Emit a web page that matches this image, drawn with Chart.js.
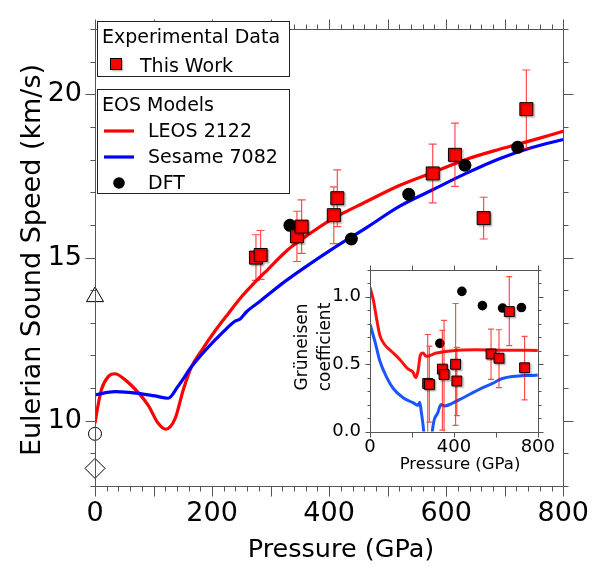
<!DOCTYPE html>
<html>
<head>
<meta charset="utf-8">
<script src="https://cdn.jsdelivr.net/npm/chart.js@4.4.0/dist/chart.umd.min.js"></script>
<style>
body { margin: 0; background: #fff; }
#wrap { position: relative; width: 601px; height: 573px; }
#mainChart { position: absolute; left: 0; top: 0; }
#insetChart { position: absolute; left: 280px; top: 250px; }
</style>
</head>
<body>
<div id="wrap">
  <canvas id="mainChart" width="601" height="573"></canvas>
  <canvas id="insetChart" width="280" height="230"></canvas>
</div>
<script>
// ---- sound speed (km/s) vs pressure (GPa) ----
var leosP = [0, 6, 11, 23, 34, 51, 74, 91, 108, 121, 137, 151, 165, 182, 205, 228, 250, 273, 296, 330, 350, 407, 464, 520, 577, 634, 691, 748, 800];
var leosV = [9.92, 10.55, 10.96, 11.36, 11.44, 11.26, 10.86, 10.47, 9.92, 9.74, 10.07, 10.96, 11.66, 12.15, 12.75, 13.29, 13.79, 14.24, 14.65, 15.25, 15.52, 16.2, 16.72, 17.21, 17.61, 18.01, 18.32, 18.6, 18.87];

var sesameP = [0, 34, 74, 102, 125, 142, 165, 188, 216, 239, 248, 259, 284, 318, 353, 407, 464, 520, 577, 634, 691, 748, 800];
var sesameV = [10.79, 10.89, 10.84, 10.76, 10.69, 11.06, 11.66, 12.15, 12.67, 13.05, 13.12, 13.34, 13.69, 14.18, 14.63, 15.28, 15.92, 16.57, 17.08, 17.58, 18.03, 18.38, 18.62];

var expP = [275, 283, 345, 353, 408, 414, 577, 615, 664, 737];
var expV = [15.0, 15.08, 15.65, 15.95, 16.3, 16.82, 17.58, 18.15, 16.21, 19.55];
var expErr = [0.7, 0.75, 0.77, 0.82, 0.87, 0.87, 0.9, 0.97, 0.64, 1.2];

var dftP = [333, 438, 536, 632, 722];
var dftV = [15.99, 15.57, 16.94, 17.83, 18.38];

// ambient-pressure values on the axis (triangle, circle, diamond)
var ambientV = [13.8, 9.6, 8.54];

// ---- Grueneisen coefficient (inset) ----
var gLeosP = [0, 16, 32, 47, 71, 103, 142, 181, 205, 218, 229, 240, 252, 268, 316, 394, 505, 650, 800];
var gLeos = [1.07, 0.975, 0.832, 0.713, 0.642, 0.594, 0.535, 0.464, 0.44, 0.40, 0.45, 0.566, 0.582, 0.558, 0.582, 0.60, 0.607, 0.603, 0.602];

var gSesameP = [0, 24, 47, 79, 110, 158, 205, 229, 237, 245, 256, 268, 286, 297, 323, 339, 355, 426, 521, 584, 631, 800];
var gSesame = [0.796, 0.665, 0.523, 0.404, 0.321, 0.25, 0.214, 0.194, 0.217, 0.14, 0.0, -0.3, -0.3, 0.0, 0.14, 0.2, 0.19, 0.237, 0.313, 0.357, 0.393, 0.42];

var gExp = [0.357, 0.35, 0.463, 0.423, 0.499, 0.375, 0.575, 0.544, 0.89, 0.473];
var gExpLo = [-0.05, 0.07, 0.01, -0.05, 0.046, 0.118, 0.387, 0.325, 0.637, 0.234];
var gExpHi = [0.72, 0.634, 0.75, 0.825, 0.95, 0.625, 0.76, 0.755, 1.15, 0.706];

var gDft = [0.654, 1.04, 0.934, 0.916, 0.92];

// tick labels
var xTicks = [0, 200, 400, 600, 800];
var yTicks = [10, 15, 20];
var gxTicks = [0, 400, 800];
var gyTicks = [0, 0.5, 1.0];

Chart.defaults.font.family = 'DejaVu Sans';
Chart.defaults.color = '#000';

function pts(xs, ys) {
  return xs.map(function (x, i) { return { x: x, y: ys[i] }; });
}

function isMajor(v, m) {
  var r = v / m;
  return Math.abs(r - Math.round(r)) < 1e-6;
}

// box around the plot plus minor/major tick marks on all four sides
function drawFrame(chart, o) {
  var ctx = chart.ctx, a = chart.chartArea, xs = chart.scales.x, ys = chart.scales.y;
  var L = Math.round(a.left) + 0.5, R = Math.round(a.right) + 0.5;
  var T = Math.round(a.top) + 0.5, B = Math.round(a.bottom) + 0.5;
  ctx.save();
  ctx.strokeStyle = o.color;
  ctx.lineWidth = 1;
  ctx.beginPath();
  ctx.rect(L, T, R - L, B - T);
  var v, p, len;
  for (v = xs.min; v <= xs.max + 1e-9; v += o.xStep) {
    p = Math.round(xs.getPixelForValue(v)) + 0.5;
    len = isMajor(v, o.xMajor) ? o.major : o.minor;
    ctx.moveTo(p, B); ctx.lineTo(p, B + len);
    ctx.moveTo(p, T); ctx.lineTo(p, T - len);
  }
  for (v = ys.min; v <= ys.max + 1e-9; v += o.yStep) {
    p = Math.round(ys.getPixelForValue(v)) + 0.5;
    len = isMajor(v, o.yMajor) ? o.major : o.minor;
    ctx.moveTo(L, p); ctx.lineTo(L - len, p);
    ctx.moveTo(R, p); ctx.lineTo(R + len, p);
  }
  ctx.stroke();
  ctx.restore();
}

function drawErrorBars(chart, ds, cap) {
  var ctx = chart.ctx, xs = chart.scales.x, ys = chart.scales.y;
  ctx.save();
  ctx.strokeStyle = 'rgba(255,0,0,0.7)';
  ctx.lineWidth = 1.2;
  ctx.beginPath();
  ds.data.forEach(function (d, i) {
    var px = xs.getPixelForValue(d.x);
    var y1 = ys.getPixelForValue(ds.errLo[i]);
    var y2 = ys.getPixelForValue(ds.errHi[i]);
    ctx.moveTo(px, y1); ctx.lineTo(px, y2);
    ctx.moveTo(px - cap, y1); ctx.lineTo(px + cap, y1);
    ctx.moveTo(px - cap, y2); ctx.lineTo(px + cap, y2);
  });
  ctx.stroke();
  ctx.restore();
}

function setShadow(ctx) {
  ctx.shadowColor = 'rgba(0,0,0,0.35)';
  ctx.shadowOffsetX = 1.5;
  ctx.shadowOffsetY = 1.5;
  ctx.shadowBlur = 1.5;
}

var markerPlugin = {
  id: 'markers',
  beforeDatasetDraw: function (chart, args) {
    var ds = chart.data.datasets[args.index];
    if (ds.errLo) {
      chart.ctx.save();
      chart.ctx.beginPath();
      var a = chart.chartArea;
      chart.ctx.rect(a.left, a.top, a.right - a.left, a.bottom - a.top);
      chart.ctx.clip();
      drawErrorBars(chart, ds, ds.capHalf);
      chart.ctx.restore();
    }
    if (ds.dropShadow) {
      chart.ctx.save();
      setShadow(chart.ctx);
    }
  },
  afterDatasetDraw: function (chart, args) {
    if (chart.data.datasets[args.index].dropShadow) chart.ctx.restore();
  }
};

function drawLegend(ctx) {
  ctx.save();
  ctx.lineWidth = 1;
  ctx.strokeStyle = '#222';
  ctx.fillStyle = '#fff';
  ctx.fillRect(97.5, 21.5, 192, 55);
  ctx.strokeRect(97.5, 21.5, 192, 55);
  ctx.fillRect(97.5, 89.5, 192, 104);
  ctx.strokeRect(97.5, 89.5, 192, 104);

  ctx.fillStyle = '#000';
  ctx.font = '19px "DejaVu Sans"';
  ctx.textBaseline = 'alphabetic';
  ctx.fillText('Experimental Data', 102, 43);
  ctx.fillText('This Work', 140, 71.5);
  ctx.fillText('EOS Models', 102, 111);
  ctx.fillText('LEOS 2122', 148, 136.5);
  ctx.fillText('Sesame 7082', 148, 162.5);
  ctx.fillText('DFT', 148, 189);

  ctx.save();
  setShadow(ctx);
  ctx.fillStyle = '#ff0000';
  ctx.fillRect(110.5, 58.5, 11, 11);
  ctx.restore();
  ctx.strokeStyle = '#000';
  ctx.strokeRect(110.5, 58.5, 11, 11);

  ctx.lineWidth = 3.2;
  ctx.strokeStyle = '#ff0000';
  ctx.beginPath(); ctx.moveTo(104, 131); ctx.lineTo(134, 131); ctx.stroke();
  ctx.strokeStyle = '#0000ff';
  ctx.beginPath(); ctx.moveTo(104, 157); ctx.lineTo(134, 157); ctx.stroke();

  ctx.fillStyle = '#000';
  ctx.beginPath(); ctx.arc(119, 183, 5.8, 0, Math.PI * 2); ctx.fill();
  ctx.restore();
}

var mainDecor = {
  id: 'mainDecor',
  afterDraw: function (chart) {
    var ctx = chart.ctx;
    drawFrame(chart, { color: '#555', xStep: 20, xMajor: 100, yStep: 1, yMajor: 5, major: 10, minor: 5 });
    drawLegend(ctx);
    ctx.save();
    ctx.fillStyle = '#000';
    ctx.font = '25.5px "DejaVu Sans"';
    ctx.textAlign = 'center';
    ctx.textBaseline = 'alphabetic';
    ctx.fillText('Pressure (GPa)', 341, 557);
    ctx.translate(40, 260);
    ctx.rotate(-Math.PI / 2);
    ctx.font = '27px "DejaVu Sans"';
    ctx.fillText('Eulerian Sound Speed (km/s)', 0, 0);
    ctx.restore();
  }
};

var expLo = expV.map(function (v, i) { return v - expErr[i]; });
var expHi = expV.map(function (v, i) { return v + expErr[i]; });

var mainChart = new Chart(document.getElementById('mainChart'), {
  type: 'line',
  data: {
    datasets: [
      {
        label: 'This Work',
        data: pts(expP, expV),
        showLine: false,
        pointStyle: 'rect',
        pointRadius: 9.2,
        pointHoverRadius: 9.2,
        backgroundColor: '#ff0000',
        borderColor: '#000',
        borderWidth: 1,
        errLo: expLo,
        errHi: expHi,
        capHalf: 4,
        dropShadow: true,
        order: 0
      },
      {
        label: 'DFT',
        data: pts(dftP, dftV),
        showLine: false,
        pointStyle: 'circle',
        pointRadius: 6.5,
        backgroundColor: '#000',
        borderColor: '#000',
        borderWidth: 0,
        order: 1
      },
      {
        label: 'Ambient',
        data: ambientV.map(function (v) { return { x: 0, y: v }; }),
        showLine: false,
        pointStyle: ['triangle', 'circle', 'rectRot'],
        pointRadius: [9.8, 6.5, 10],
        backgroundColor: '#fff',
        borderColor: '#000',
        borderWidth: 1,
        clip: false,
        order: 1
      },
      {
        label: 'Sesame 7082',
        data: pts(sesameP, sesameV),
        borderColor: '#0000ff',
        borderWidth: 3.2,
        pointRadius: 0,
        cubicInterpolationMode: 'monotone',
        order: 2
      },
      {
        label: 'LEOS 2122',
        data: pts(leosP, leosV),
        borderColor: '#ff0000',
        borderWidth: 3.2,
        pointRadius: 0,
        cubicInterpolationMode: 'monotone',
        order: 3
      }
    ]
  },
  options: {
    responsive: false,
    animation: false,
    devicePixelRatio: 1,
    layout: { padding: { left: 0, right: 37.5, top: 16, bottom: 0 } },
    plugins: { legend: { display: false }, tooltip: { enabled: false } },
    scales: {
      x: {
        type: 'linear', min: 0, max: 800,
        afterBuildTicks: function (s) { s.ticks = xTicks.map(function (v) { return { value: v }; }); },
        afterFit: function (s) { s.height = 87; },
        grid: { display: false, drawTicks: false },
        border: { display: false },
        ticks: { font: { size: 27 }, color: '#000', padding: 12, maxRotation: 0, autoSkip: false }
      },
      y: {
        type: 'linear', min: 8, max: 22,
        afterBuildTicks: function (s) { s.ticks = yTicks.map(function (v) { return { value: v }; }); },
        afterFit: function (s) { s.width = 95; },
        grid: { display: false, drawTicks: false },
        border: { display: false },
        ticks: { font: { size: 27 }, color: '#000', padding: 13, autoSkip: false }
      }
    }
  },
  plugins: [markerPlugin, mainDecor]
});

// inset: Grueneisen coefficient
var insetDecor = {
  id: 'insetDecor',
  afterDraw: function (chart) {
    var ctx = chart.ctx;
    drawFrame(chart, { color: '#555', xStep: 200, xMajor: 200, yStep: 0.1, yMajor: 0.5, major: 5, minor: 3 });
    ctx.save();
    ctx.fillStyle = '#000';
    ctx.textAlign = 'center';
    ctx.textBaseline = 'alphabetic';
    ctx.font = '16.5px "DejaVu Sans"';
    ctx.fillText('Pressure (GPa)', 180, 219);
    ctx.font = '17px "DejaVu Sans"';
    ctx.translate(0, 97);
    ctx.rotate(-Math.PI / 2);
    ctx.fillText('Grüneisen', 0, 26.5);
    ctx.fillText('coefficient', 0, 50);
    ctx.restore();
  }
};

var insetChart = new Chart(document.getElementById('insetChart'), {
  type: 'line',
  data: {
    datasets: [
      {
        label: 'This Work',
        data: pts(expP, gExp),
        showLine: false,
        pointStyle: 'rect',
        pointRadius: 7,
        pointHoverRadius: 7,
        backgroundColor: '#ff0000',
        borderColor: '#000',
        borderWidth: 1,
        errLo: gExpLo,
        errHi: gExpHi,
        capHalf: 3,
        dropShadow: true,
        order: 0
      },
      {
        label: 'DFT',
        data: pts(dftP, gDft),
        showLine: false,
        pointStyle: 'circle',
        pointRadius: 4.8,
        backgroundColor: '#000',
        borderColor: '#000',
        borderWidth: 0,
        order: 1
      },
      {
        label: 'Sesame 7082',
        data: pts(gSesameP, gSesame),
        borderColor: '#1a55ff',
        borderWidth: 3,
        pointRadius: 0,
        cubicInterpolationMode: 'monotone',
        clip: 0,
        order: 2
      },
      {
        label: 'LEOS 2122',
        data: pts(gLeosP, gLeos),
        borderColor: '#ff1010',
        borderWidth: 3,
        pointRadius: 0,
        cubicInterpolationMode: 'monotone',
        clip: 0,
        order: 3
      }
    ]
  },
  options: {
    responsive: false,
    animation: false,
    devicePixelRatio: 1,
    layout: { padding: { left: 0, right: 21, top: 13, bottom: 0 } },
    plugins: { legend: { display: false }, tooltip: { enabled: false } },
    scales: {
      x: {
        type: 'linear', min: 0, max: 800,
        afterBuildTicks: function (s) { s.ticks = gxTicks.map(function (v) { return { value: v }; }); },
        afterFit: function (s) { s.height = 48.5; },
        grid: { display: false, drawTicks: false },
        border: { display: false },
        ticks: { font: { size: 18 }, color: '#000', padding: 5, maxRotation: 0, autoSkip: false }
      },
      y: {
        type: 'linear', min: 0, max: 1.2,
        afterBuildTicks: function (s) { s.ticks = gyTicks.map(function (v) { return { value: v }; }); },
        afterFit: function (s) { s.width = 90; },
        grid: { display: false, drawTicks: false },
        border: { display: false },
        ticks: {
          font: { size: 18 }, color: '#000', padding: 9, autoSkip: false,
          callback: function (v) { return v.toFixed(1); }
        }
      }
    }
  },
  plugins: [markerPlugin, insetDecor]
});
</script>
</body>
</html>
